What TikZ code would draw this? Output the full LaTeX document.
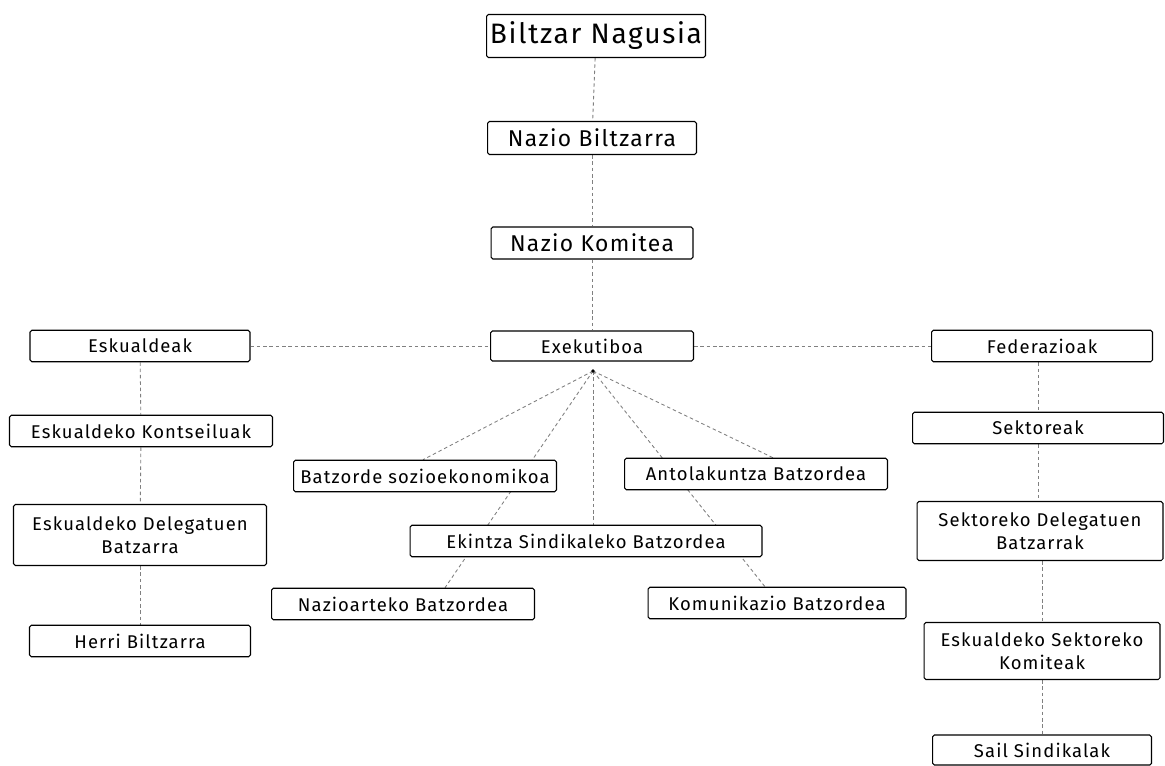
\documentclass[tikz,border=0pt]{standalone}
\usepackage{fontspec}
\setmainfont{Fira Sans}[LetterSpace=6]
\usetikzlibrary{positioning,backgrounds}

\tikzset{
  org/.style={draw, fill=white, line width=0.6pt, rounded corners=1pt, inner sep=0pt,
    minimum height=0.63cm, align=center, font=\fontsize{10.5}{13}\selectfont},
  orgbig/.style={org, font=\fontsize{13}{15}\selectfont},
  link/.style={draw=black!50, line width=0.5pt, dash pattern=on 2pt off 1.6pt},
}

\begin{document}
\begin{tikzpicture}[x=0.02cm, y=-0.02cm]
\useasboundingbox (0,0) rectangle (1165,765);
% goiko zutabea
\node[org, minimum width=4.38cm, minimum height=0.86cm, font=\fontsize{16}{19}\selectfont] (nagusia) at (596,36) {Biltzar Nagusia};
\node[orgbig, minimum width=4.18cm, minimum height=0.66cm] (biltzarra) at (592,138) {Nazio Biltzarra};
\node[orgbig, minimum width=4.04cm, minimum height=0.64cm] (komitea) at (592,243) {Nazio Komitea};
\node[org, minimum width=4.06cm, minimum height=0.6cm] (exek) at (592,346) {Exekutiboa};
\coordinate (hub) at (593,371);
% ezkerra
\node[org, minimum width=4.4cm] (eskualdeak) at (140,346) {Eskualdeak};
\node[org, minimum width=5.26cm] (kontseilu) at (141,431) {Eskualdeko Kontseiluak};
\node[org, minimum width=5.06cm, minimum height=1.22cm] (delegatu) at (140,535) {Eskualdeko Delegatuen\\Batzarra};
\node[org, minimum width=4.42cm] (herri) at (140,641) {Herri Biltzarra};
% eskuina
\node[org, minimum width=4.42cm] (federazio) at (1042,346) {Federazioak};
\node[org, minimum width=5.02cm] (sektore) at (1038,428) {Sektoreak};
\node[org, minimum width=4.92cm, minimum height=1.18cm] (sekdeleg) at (1040,531) {Sektoreko Delegatuen\\Batzarrak};
\node[org, minimum width=4.72cm, minimum height=1.14cm] (sekkomite) at (1042,651) {Eskualdeko Sektoreko\\Komiteak};
\node[org, minimum width=4.38cm, minimum height=0.6cm] (sail) at (1042,750) {Sail Sindikalak};
% batzordeak
\node[org] [minimum width=5.26cm] (sozio) at (425,476) {Batzorde sozioekonomikoa};
\node[org, minimum width=5.26cm] (antola) at (756,474) {Antolakuntza Batzordea};
\node[org, minimum width=7.04cm] (ekintza) at (586,541) {Ekintza Sindikaleko Batzordea};
\node[org, minimum width=5.26cm] (nazioarte) at (403,604) {Nazioarteko Batzordea};
\node[org, minimum width=5.16cm] (komunik) at (777,603) {Komunikazio Batzordea};

\begin{pgfonlayer}{background}
\draw[link] (nagusia) -- (biltzarra);
\draw[link] (biltzarra) -- (komitea);
\draw[link] (komitea) -- (exek);
\draw[link] (eskualdeak) -- (exek);
\draw[link] (exek) -- (federazio);
\draw[link] (eskualdeak) -- (kontseilu);
\draw[link] (kontseilu) -- (delegatu);
\draw[link] (delegatu) -- (herri);
\draw[link] (federazio.south -| sektore.north) -- (sektore);
\draw[link] (sektore) -- (sekdeleg.north -| sektore.south);
\draw[link] (sekdeleg.south -| sekkomite.north) -- (sekkomite);
\draw[link] (sekkomite) -- (sail);
\draw[link] (hub) -- (sozio.north -| 423,0);
\draw[link] (hub) -- (nazioarte.north -| 445,0);
\draw[link] (hub) -- (ekintza.north -| hub);
\draw[link] (hub) -- (antola.north -| 773,0);
\draw[link] (hub) -- (komunik.north -| 765,0);
\end{pgfonlayer}
\fill (hub) circle (1.1pt);
\end{tikzpicture}
\end{document}
